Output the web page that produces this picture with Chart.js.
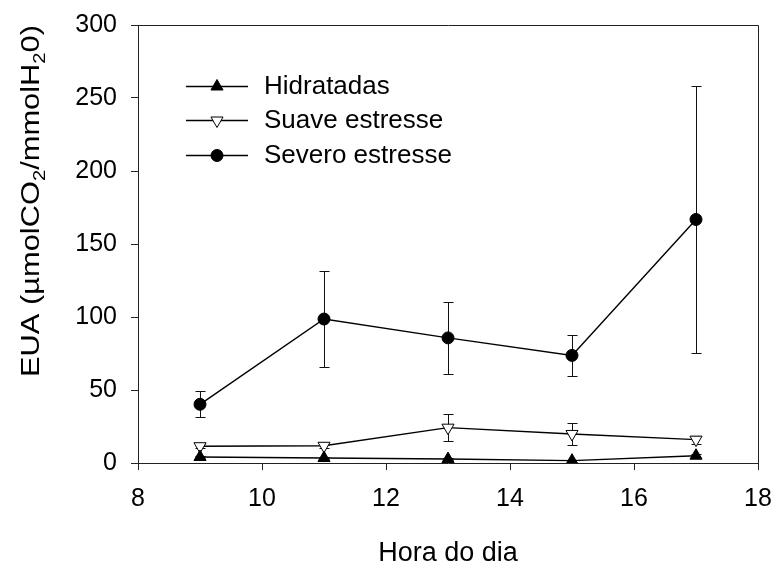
<!DOCTYPE html>
<html>
<head>
<meta charset="utf-8">
<script src="https://cdn.jsdelivr.net/npm/chart.js@4.4.1/dist/chart.umd.min.js"></script>
<style>
  html, body { margin: 0; padding: 0; background: #fff; }
  #wrap { width: 776px; height: 565px; }
</style>
</head>
<body>
<div id="wrap"><canvas id="eua"></canvas></div>
<script>
// ---- data ------------------------------------------------------------
const HOURS = [9, 11, 13, 15, 17];

const HIDRATADAS = [4.1, 3.4, 2.7, 1.6, 5.0];
const HIDRATADAS_ERR = [0.8, 0.8, 0.6, 0.6, 0.9];

const SUAVE = [11.5, 11.8, 24.2, 19.9, 16.0];
const SUAVE_ERR = [1.5, 1.5, 9.2, 7.4, 2.7];

const SEVERO = [40.2, 98.6, 85.7, 73.7, 166.8];
const SEVERO_ERR = [8.9, 33.0, 24.9, 14.0, 91.5];

const X_TICKS = [8, 10, 12, 14, 16, 18];
const Y_TICKS = [0, 50, 100, 150, 200, 250, 300];

const FONT = '"Liberation Sans", Arial, sans-serif';
const INK = '#000';

function toPoints(ys) {
  return HOURS.map((h, i) => ({ x: h, y: ys[i] }));
}

const SERIES = [
  { label: 'Hidratadas', data: HIDRATADAS, err: HIDRATADAS_ERR, style: 'triangle', rot: 0, radius: 7, fill: INK },
  { label: 'Suave estresse', data: SUAVE, err: SUAVE_ERR, style: 'triangle', rot: 180, radius: 7, fill: '#fff' },
  { label: 'Severo estresse', data: SEVERO, err: SEVERO_ERR, style: 'circle', rot: 0, radius: 6, fill: INK }
];

// ---- plugins ---------------------------------------------------------
// vertical error bars with small caps, drawn under the markers
const errorBars = {
  id: 'errorBars',
  beforeDatasetsDraw(chart) {
    const { ctx, scales: { x, y } } = chart;
    ctx.save();
    ctx.strokeStyle = '#111';
    ctx.lineWidth = 1;
    chart.data.datasets.forEach(ds => {
      ds.data.forEach((p, i) => {
        const e = ds.errors[i];
        const px = Math.round(x.getPixelForValue(p.x)) + 0.5;
        const top = Math.round(y.getPixelForValue(p.y + e)) + 0.5;
        const bot = Math.round(y.getPixelForValue(p.y - e)) + 0.5;
        ctx.beginPath();
        ctx.moveTo(px, top); ctx.lineTo(px, bot);
        ctx.moveTo(px - 5, top); ctx.lineTo(px + 5, top);
        ctx.moveTo(px - 5, bot); ctx.lineTo(px + 5, bot);
        ctx.stroke();
      });
    });
    ctx.restore();
  }
};

// closing frame, legend and axis titles
const decorations = {
  id: 'decorations',
  afterDraw(chart) {
    const { ctx, chartArea: a } = chart;
    ctx.save();

    // top and right edge of the box
    ctx.strokeStyle = '#222';
    ctx.lineWidth = 1;
    ctx.beginPath();
    ctx.moveTo(Math.round(a.left) + 0.5, Math.round(a.top) + 0.5);
    ctx.lineTo(Math.round(a.right) + 0.5, Math.round(a.top) + 0.5);
    ctx.lineTo(Math.round(a.right) + 0.5, Math.round(a.bottom) + 0.5);
    ctx.stroke();

    // legend
    const rows = [86, 120, 155];
    chart.data.datasets.forEach((ds, i) => {
      const yy = rows[i] + 0.5;
      ctx.strokeStyle = INK;
      ctx.lineWidth = 1.5;
      ctx.beginPath();
      ctx.moveTo(186, yy); ctx.lineTo(248, yy);
      ctx.stroke();
      ctx.fillStyle = ds.pointBackgroundColor;
      ctx.strokeStyle = INK;
      ctx.lineWidth = 1;
      Chart.helpers.drawPoint(ctx, {
        pointStyle: ds.pointStyle, rotation: ds.pointRotation,
        radius: ds.pointRadius, borderWidth: 1
      }, 217, yy);
      ctx.fillStyle = INK;
      ctx.font = '26px ' + FONT;
      ctx.textBaseline = 'middle';
      ctx.textAlign = 'left';
      ctx.fillText(ds.label, 264, yy);
    });

    // x title
    ctx.fillStyle = INK;
    ctx.font = '27px ' + FONT;
    ctx.textAlign = 'center';
    ctx.textBaseline = 'alphabetic';
    ctx.fillText('Hora do dia', (a.left + a.right) / 2, 561);

    // y title with subscripts, slightly widened along the reading direction
    const parts = [
      ['EUA (\u00b5molCO', false], ['2', true], ['/mmolH', false], ['2', true], ['0)', false]
    ];
    const big = '26px ' + FONT, small = '17px ' + FONT;
    let total = 0;
    parts.forEach(([t, sub]) => { ctx.font = sub ? small : big; total += ctx.measureText(t).width; });
    const stretch = 352 / total;
    ctx.translate(39, 201);
    ctx.rotate(-Math.PI / 2);
    ctx.scale(stretch, 1);
    ctx.textAlign = 'left';
    let cx = -total / 2;
    parts.forEach(([t, sub]) => {
      ctx.font = sub ? small : big;
      ctx.fillText(t, cx, sub ? 6 : 0);
      cx += ctx.measureText(t).width;
    });
    ctx.restore();
  }
};

// ---- chart -----------------------------------------------------------
const datasets = SERIES.map(s => ({
  label: s.label,
  data: toPoints(s.data),
  errors: s.err,
  borderColor: INK,
  borderWidth: 1.4,
  pointStyle: s.style,
  pointRotation: s.rot,
  pointRadius: s.radius,
  pointHoverRadius: s.radius,
  pointBackgroundColor: s.fill,
  pointBorderColor: INK,
  pointBorderWidth: 1,
  tension: 0,
  fill: false
}));

new Chart(document.getElementById('eua'), {
  type: 'line',
  data: { datasets },
  options: {
    responsive: true,
    maintainAspectRatio: false,
    animation: false,
    events: [],
    layout: { padding: { top: 25, right: 18, left: 0, bottom: 0 } },
    plugins: { legend: { display: false }, tooltip: { enabled: false } },
    scales: {
      x: {
        type: 'linear', min: 8, max: 18,
        afterBuildTicks: sc => { sc.ticks = X_TICKS.map(v => ({ value: v })); },
        afterFit: sc => { sc.height = 102; sc.paddingLeft = 0; sc.paddingRight = 0; },
        grid: { drawOnChartArea: false, tickLength: 7, color: '#222', tickWidth: 1 },
        border: { color: '#222', width: 1 },
        ticks: { color: INK, font: { family: FONT, size: 25 }, padding: 14, maxRotation: 0 }
      },
      y: {
        type: 'linear', min: 0, max: 300,
        afterBuildTicks: sc => { sc.ticks = Y_TICKS.map(v => ({ value: v })); },
        afterFit: sc => { sc.width = 138; sc.paddingTop = 0; sc.paddingBottom = 0; },
        grid: { drawOnChartArea: false, tickLength: 7, color: '#222', tickWidth: 1 },
        border: { color: '#222', width: 1 },
        ticks: { color: INK, font: { family: FONT, size: 25 }, padding: 14 }
      }
    }
  },
  plugins: [errorBars, decorations]
});
</script>
</body>
</html>
